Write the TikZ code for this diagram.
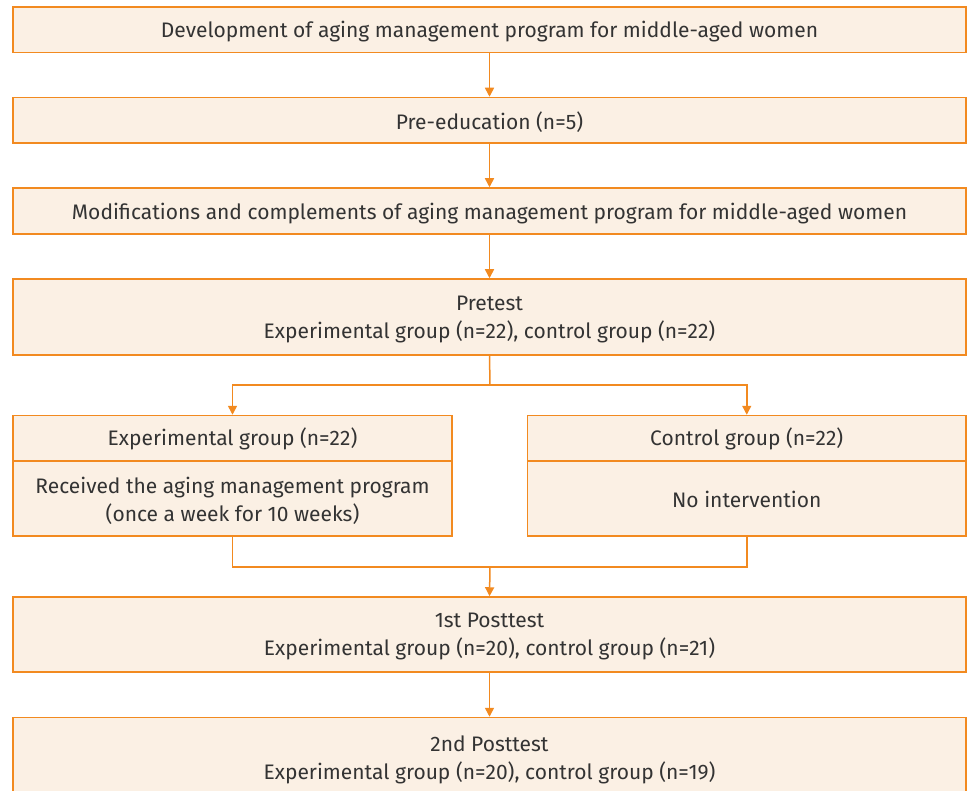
\documentclass[tikz,border=0pt]{standalone}
\usepackage{fontspec}
\setmainfont{Fira Sans}
\usetikzlibrary{arrows.meta}
\definecolor{boxfill}{HTML}{FBF0E4}
\definecolor{boxline}{HTML}{F28A20}
\definecolor{txt}{HTML}{333333}
\tikzset{
  box/.style={draw=boxline, fill=boxfill, line width=1.5pt, inner sep=0pt, align=center, text=txt, text depth=0pt, font=\fontsize{21}{28}\selectfont},
  lbl/.style={inner sep=0pt, align=center, text=txt, font=\fontsize{21}{28}\selectfont},
  conn/.style={draw=boxline, line width=1.5pt, line join=miter},
  arr/.style={conn, -{Triangle[length=9pt,width=9pt]}}
}
\begin{document}
\begin{tikzpicture}[x=1pt,y=-1pt]
\useasboundingbox (0,0) rectangle (973,791);
\clip (0,0) rectangle (973,791);
\fill[white] (0,0) rectangle (973,791);
\node[box, minimum width=953pt, minimum height=45.5pt] (b1) at (489.5,29.75) {Development of aging management program for middle-aged women};
\node[box, minimum width=953pt, minimum height=45.5pt] (b2) at (489.5,120.25) {Pre-education (n=5)};
\node[box, minimum width=953pt, minimum height=46pt] (b3) at (489.5,211) {Modifications and complements of aging management program for middle-aged women};
\node[box, minimum width=953pt, minimum height=76pt] (b4) at (489.5,317) {Pretest\\Experimental group (n=22), control group (n=22)};
\node[box, minimum width=439pt, minimum height=120.5pt] (lb) at (232.5,475.75) {};
\node[box, minimum width=438.5pt, minimum height=120.5pt] (rb) at (746.75,475.75) {};
\draw[conn] (lb.west |- 0,461) -- (lb.east |- 0,461);
\draw[conn] (rb.west |- 0,461) -- (rb.east |- 0,461);
\node[lbl] (lh) at (232.5,439) {Experimental group (n=22)};
\node[lbl] (lt) at (232.5,500.5) {Received the aging management program\\(once a week for 10 weeks)};
\node[lbl] (rh) at (746.75,439) {Control group (n=22)};
\node[lbl] (rt) at (746.75,499.5) {No intervention};
\node[box, minimum width=953pt, minimum height=75pt] (b5) at (489.5,634.5) {1st Posttest\\Experimental group (n=20), control group (n=21)};
\node[box, minimum width=953pt, minimum height=80pt] (b6) at (489.5,757.5) {2nd Posttest\\Experimental group (n=20), control group (n=19)};
\coordinate (split) at (490,385);
\coordinate (join) at (490,567);
\draw[arr] (b1.south) -- (b2.north);
\draw[arr] (b2.south) -- (b3.north);
\draw[arr] (b3.south) -- (b4.north);
\draw[conn] (b4.south) -- (split);
\draw[arr] (split) -| (lb.north);
\draw[arr] (split) -| (rb.north);
\draw[conn] (lb.south) |- (join) -| (rb.south);
\draw[arr] (join) -- (b5.north);
\draw[arr] (b5.south) -- (b6.north);
\end{tikzpicture}
\end{document}
